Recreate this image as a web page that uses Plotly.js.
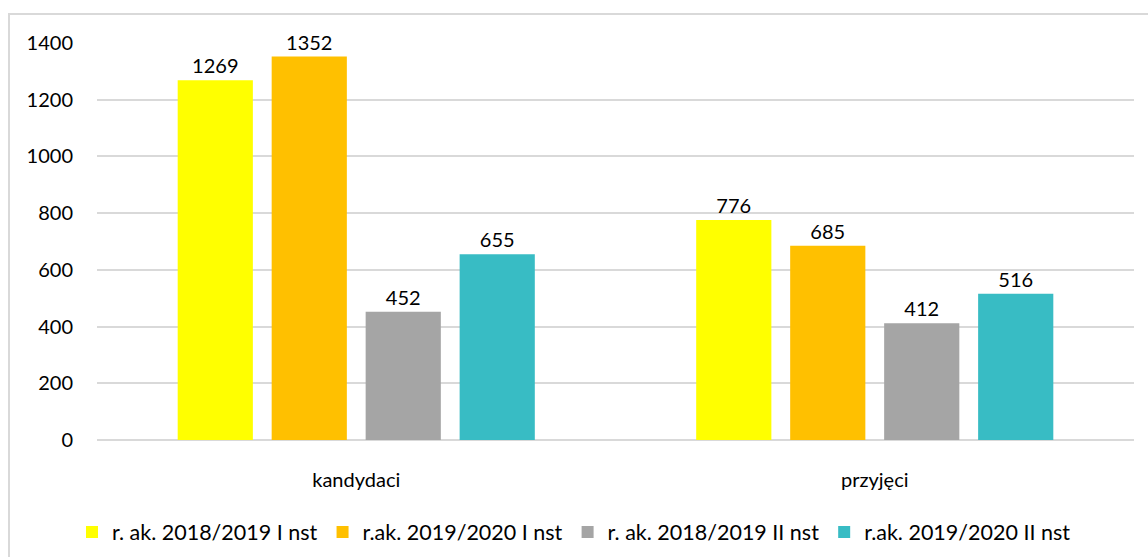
<!DOCTYPE html>
<html><head><meta charset="utf-8">
<script src="https://cdn.plot.ly/plotly-3.0.1.min.js"></script>
<style>html,body{margin:0;padding:0;background:#fff;}#chart{width:1148px;height:557px;}</style>
</head><body><div id="chart"></div>
<script>
const categories = ["kandydaci", "przyjęci"];
const seriesNames = ["r. ak. 2018/2019 I nst", "r.ak. 2019/2020 I nst", "r. ak. 2018/2019 II nst", "r.ak. 2019/2020 II nst"];
const s2018I = [1269, 776];
const s2019I = [1352, 685];
const s2018II = [452, 412];
const s2019II = [655, 516];
const colors = ["#FFFF00", "#FFC000", "#A5A5A5", "#38BCC4"];
const yTicks = [0, 200, 400, 600, 800, 1000, 1200, 1400];

const allSeries = [s2018I, s2019I, s2018II, s2019II];
const font = "Lato, 'Open Sans', sans-serif";
const fs = 20;
const traces = allSeries.map((vals, i) => ({
  type: "bar",
  name: seriesNames[i],
  x: categories,
  y: vals,
  marker: {color: colors[i]},
  text: vals.map(String),
  textposition: "outside",
  textfont: {family: font, size: fs, color: "#000"},
  cliponaxis: false,
  hoverinfo: "skip"
}));

const layout = {
  width: 1148, height: 557,
  paper_bgcolor: "#fff", plot_bgcolor: "#fff",
  margin: {l: 97, r: 14, t: 43, b: 117},
  barmode: "group",
  bargap: 0.275,
  bargroupgap: 0.2,
  font: {family: font, size: fs, color: "#000"},
  xaxis: {
    showgrid: false, showline: false, zeroline: false,
    ticks: "", tickfont: {family: font, size: fs, color: "#000"},
    ticklabelstandoff: 26
  },
  yaxis: {
    range: [0, 1400], tickvals: yTicks, ticktext: yTicks.map(String),
    showgrid: true, gridcolor: "#D9D9D9", gridwidth: 2,
    zeroline: true, zerolinecolor: "#D9D9D9", zerolinewidth: 2,
    showline: false, ticks: "", ticklabelstandoff: 23,
    tickfont: {family: font, size: fs, color: "#000"}
  },
  showlegend: true,
  legend: {
    orientation: "h", x: 0.5, xanchor: "center", xref: "container",
    y: 0.045, yanchor: "middle", yref: "container",
    font: {family: font, size: 21.5, color: "#000"},
    itemwidth: 30, traceorder: "normal"
  },
  shapes: [{
    type: "rect", xref: "paper", yref: "paper",
    x0: -88/1037, x1: 1.02, y0: -0.5, y1: 1 + 29/397,
    line: {color: "#D9D9D9", width: 2}, fillcolor: "rgba(0,0,0,0)", layer: "below"
  }]
};

Plotly.newPlot("chart", traces, layout, {displayModeBar: false, staticPlot: true});
</script>
</body></html>
